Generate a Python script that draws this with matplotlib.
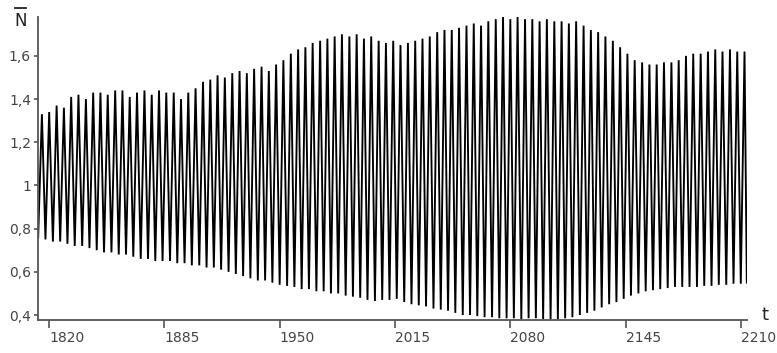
import matplotlib
matplotlib.use("Agg")
import matplotlib.pyplot as plt
from matplotlib.lines import Line2D

# ---- data (peaks and troughs of the oscillation) ----
peak_years = [1816.0, 1820.1, 1824.3, 1828.4, 1832.5, 1836.6, 1840.8, 1844.9,
              1849.0, 1853.1, 1857.3, 1861.4, 1865.5, 1869.6, 1873.8, 1877.9,
              1882.0, 1886.1, 1890.3, 1894.4, 1898.5, 1902.6, 1906.8, 1910.9,
              1915.0, 1919.1, 1923.3, 1927.4, 1931.5, 1935.6, 1939.8, 1943.9,
              1948.0, 1952.1, 1956.3, 1960.4, 1964.5, 1968.6, 1972.8, 1976.9,
              1981.0, 1985.1, 1989.3, 1993.4, 1997.5, 2001.6, 2005.8, 2009.9,
              2014.0, 2018.1, 2022.3, 2026.4, 2030.5, 2034.6, 2038.8, 2042.9,
              2047.0, 2051.1, 2055.3, 2059.4, 2063.5, 2067.6, 2071.8, 2075.9,
              2080.0, 2084.1, 2088.3, 2092.4, 2096.5, 2100.6, 2104.8, 2108.9,
              2113.0, 2117.1, 2121.3, 2125.4, 2129.5, 2133.6, 2137.8, 2141.9,
              2146.0, 2150.1, 2154.3, 2158.4, 2162.5, 2166.6, 2170.8, 2174.9,
              2179.0, 2183.1, 2187.3, 2191.4, 2195.5, 2199.6, 2203.8, 2207.9,
              2212.0]
peak_values = [1.33, 1.34, 1.37, 1.36, 1.41, 1.42, 1.40, 1.43,
               1.43, 1.42, 1.44, 1.44, 1.41, 1.43, 1.44, 1.42,
               1.44, 1.43, 1.43, 1.40, 1.43, 1.45, 1.48, 1.49,
               1.51, 1.50, 1.52, 1.53, 1.52, 1.54, 1.55, 1.53,
               1.56, 1.58, 1.61, 1.63, 1.64, 1.66, 1.67, 1.68,
               1.69, 1.70, 1.69, 1.70, 1.68, 1.69, 1.67, 1.66,
               1.67, 1.65, 1.66, 1.67, 1.68, 1.69, 1.71, 1.72,
               1.72, 1.73, 1.74, 1.75, 1.74, 1.76, 1.77, 1.78,
               1.77, 1.78, 1.77, 1.77, 1.76, 1.77, 1.76, 1.76,
               1.75, 1.76, 1.74, 1.72, 1.71, 1.69, 1.67, 1.64,
               1.61, 1.58, 1.57, 1.56, 1.56, 1.57, 1.57, 1.58,
               1.60, 1.61, 1.61, 1.62, 1.63, 1.62, 1.63, 1.62,
               1.62]

trough_years = [1813.9, 1818.0, 1822.2, 1826.3, 1830.4, 1834.5, 1838.7, 1842.8,
                1846.9, 1851.0, 1855.2, 1859.3, 1863.4, 1867.5, 1871.7, 1875.8,
                1879.9, 1884.0, 1888.2, 1892.3, 1896.4, 1900.5, 1904.7, 1908.8,
                1912.9, 1917.0, 1921.2, 1925.3, 1929.4, 1933.5, 1937.7, 1941.8,
                1945.9, 1950.0, 1954.2, 1958.3, 1962.4, 1966.5, 1970.7, 1974.8,
                1978.9, 1983.0, 1987.2, 1991.3, 1995.4, 1999.5, 2003.7, 2007.8,
                2011.9, 2016.0, 2020.2, 2024.3, 2028.4, 2032.5, 2036.7, 2040.8,
                2044.9, 2049.0, 2053.2, 2057.3, 2061.4, 2065.5, 2069.7, 2073.8,
                2077.9, 2082.0, 2086.2, 2090.3, 2094.4, 2098.5, 2102.7, 2106.8,
                2110.9, 2115.0, 2119.2, 2123.3, 2127.4, 2131.5, 2135.7, 2139.8,
                2143.9, 2148.0, 2152.2, 2156.3, 2160.4, 2164.5, 2168.7, 2172.8,
                2176.9, 2181.0, 2185.2, 2189.3, 2193.4, 2197.5, 2201.7, 2205.8,
                2209.9, 2213.3]
trough_values = [0.76, 0.75, 0.74, 0.74, 0.73, 0.72, 0.72, 0.71,
                 0.70, 0.69, 0.69, 0.68, 0.68, 0.67, 0.66, 0.66,
                 0.65, 0.65, 0.65, 0.64, 0.64, 0.63, 0.63, 0.62,
                 0.62, 0.61, 0.60, 0.59, 0.58, 0.57, 0.56, 0.56,
                 0.55, 0.54, 0.535, 0.53, 0.52, 0.52, 0.51, 0.51,
                 0.50, 0.50, 0.49, 0.485, 0.48, 0.47, 0.465, 0.47,
                 0.47, 0.475, 0.46, 0.45, 0.445, 0.44, 0.43, 0.425,
                 0.42, 0.41, 0.40, 0.40, 0.395, 0.39, 0.39, 0.385,
                 0.385, 0.385, 0.38, 0.385, 0.385, 0.38, 0.38, 0.38,
                 0.385, 0.39, 0.40, 0.41, 0.42, 0.435, 0.45, 0.46,
                 0.475, 0.49, 0.50, 0.51, 0.515, 0.52, 0.525, 0.53,
                 0.53, 0.53, 0.53, 0.535, 0.535, 0.54, 0.54, 0.545,
                 0.545, 0.55]

y_ticks = [0.4, 0.6, 0.8, 1.0, 1.2, 1.4, 1.6]
y_tick_labels = ["0,4", "0,6", "0,8", "1", "1,2", "1,4", "1,6"]
x_ticks = [1820, 1885, 1950, 2015, 2080, 2145, 2210]
x_tick_labels = ["1820", "1885", "1950", "2015", "2080", "2145", "2210"]

# interleave troughs and peaks into one series
pts = sorted(list(zip(trough_years, trough_values)) + list(zip(peak_years, peak_values)))
t = [p[0] for p in pts]
n = [p[1] for p in pts]

W, H = 777, 353
fig = plt.figure(figsize=(W / 100, H / 100), dpi=100)
ax = fig.add_axes([38 / W, 1 - 320 / H, (747 - 38) / W, (320 - 17) / H])

ax.plot(t, n, color="black", linewidth=1.35, solid_joinstyle="miter")

ax.set_xlim(1813.8, 2213.4)
ax.set_ylim(0.377, 1.78)

for s in ["top", "right"]:
    ax.spines[s].set_visible(False)
for s in ["left", "bottom"]:
    ax.spines[s].set_color("#555555")
    ax.spines[s].set_linewidth(1.3)

ax.set_yticks(y_ticks)
ax.set_yticklabels(y_tick_labels)
ax.set_xticks(x_ticks)
ax.set_xticklabels(x_tick_labels, ha="left")
ax.tick_params(axis="y", direction="out", length=3, width=1.2, color="#555555",
               labelsize=10, labelcolor="#444444", pad=2)
ax.tick_params(axis="x", direction="out", length=6, width=1.2, color="#555555",
               labelsize=10, labelcolor="#444444", pad=2)
for lab in ax.get_xticklabels():
    lab.set_horizontalalignment("left")

# axis titles
fig.text(20.5 / W, 1 - 21 / H, "N", ha="center", va="center", fontsize=12,
         color="#222222")
fig.add_artist(Line2D([15 / W, 26 / W], [1 - 7.5 / H, 1 - 7.5 / H],
                      color="#222222", linewidth=1.3))
fig.text(765 / W, 1 - 315 / H, "t", ha="center", va="center", fontsize=13,
         color="#222222")

fig.savefig("out.png", dpi=100)
